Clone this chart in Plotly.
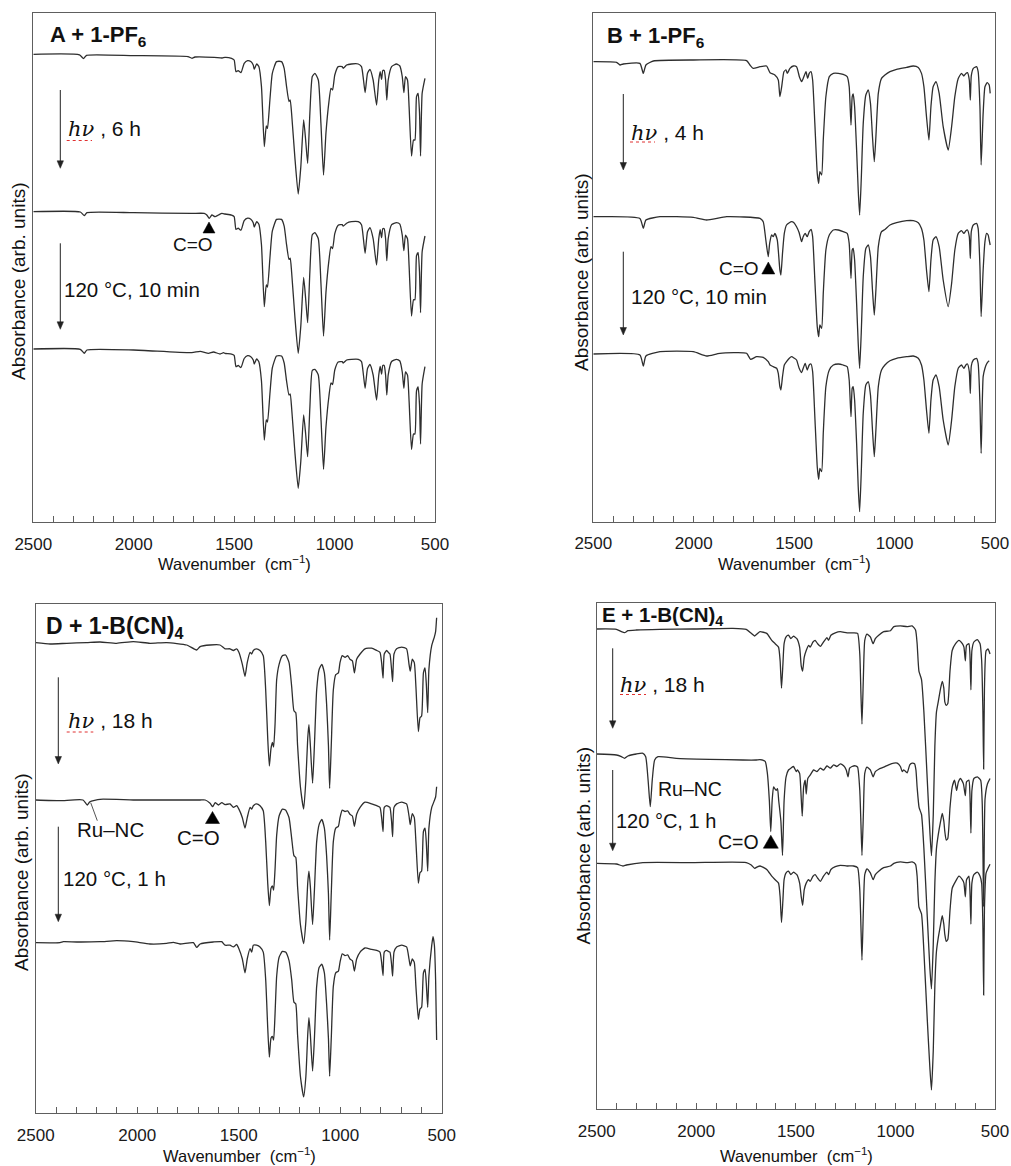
import plotly.graph_objects as go

W, H = 1011, 1166

# ------------------------------------------------------------------ data
# Panel A : A + 1-PF6   (values = relative absorbance, arb. units; dips downward)
A_WN_R = [1546,1513,1500,1491,1480,1466,1450,1433,1417,1405,1400,1388,1377,1364,1350,1340,1334,1322,1310,1289,
          1264,1251,1239,1227,1221,1214,1198,1181,1168,1154,1144,1134,1123,1111,1098,1081,1068,1055,1043,1028,
          1018,1010,999,982,962,957,940,916,882,866,856,848,836,824,808,791,780,773,766,760,
          753,746,740,733,716,692,675,663,655,647,637,629,617,607,600,592,584,577,572,564,550]
A1_WN_L = [2500,2270,2250,2235,2000,1730,1710,1695,1600,1560]
A1_L = [0,-0.5,-4.3,-1,-1.3,-2.3,-4,-2.7,-3,-3.7]
A1_R = [-3,-4,-5.7,-17.3,-16.3,-18.3,-9,-6.3,-7.3,-10.7,-15,-9.7,-12.3,-32.3,-92.3,-71.7,-74,-45.7,-19,-7.3,
        -7.3,-14,-32.3,-47.3,-45.7,-59,-102.3,-139.7,-112.3,-65.7,-85.7,-109,-59,-22.3,-19,-25.7,-69,-120.7,-79,-47.3,
        -34,-35.7,-20.7,-12.3,-12.3,-14,-10.7,-9.7,-9.7,-12.3,-25.7,-38.3,-19,-15,-25.7,-50.7,-25.7,-17.3,-25,-16.3,
        -16.3,-25.7,-45.7,-25.7,-12.3,-9.7,-11.7,-22.3,-38.3,-22.3,-25.7,-52.3,-101.7,-85.7,-85.7,-42.3,-39,-59,-101.7,-39,-24]
A2_WN_L = [2500,2266,2246,2233,2001,1711,1649,1636,1624,1611,1595,1578,1561]
A2_L = [0,-0.3,-4,-1,-1,-1.7,-1.7,-3.3,-6.7,-3.3,-5,-3.3,-1.7]
A2_R = [-2.3,-3.5,-5,-17.7,-16.5,-18.5,-9,-6.5,-7.5,-11,-15.5,-10,-12.5,-33,-95,-73.3,-75.5,-46.5,-19.5,-7.7,
        -7.7,-14.5,-33,-47.7,-46.5,-60,-104,-141.7,-114,-65.7,-87,-111,-60,-23,-21,-27,-71,-124.3,-81,-48.5,
        -35,-37,-22,-13.5,-13,-14.5,-11.5,-10,-10,-13,-28,-41.7,-20,-16,-27,-53.3,-27,-18,-26,-17,
        -17,-27,-49,-27,-13,-11,-12.5,-23.5,-39,-23.5,-27,-54,-104.3,-88,-88,-44,-41,-61,-101,-40,-24.3]
A3_WN_L = [2500,2266,2246,2233,2001,1711,1669,1628,1603,1570,1553]
A3_L = [0,-0.3,-4.3,-1,-1,-3.7,-2.3,-4.3,-3,-5,-3.7]
A3_R = [-4.3,-5,-6.3,-17.7,-16.5,-18.5,-9.5,-6.7,-7.7,-11,-15,-10,-12.7,-32,-91,-71,-73,-45,-19,-7,
        -7,-14,-32,-46,-45,-58.5,-102,-139.3,-112,-66,-85,-107.7,-58.5,-21.5,-20.3,-26,-68.5,-120.3,-78.5,-47,
        -34,-35.5,-21,-13,-12.7,-14,-11,-10.3,-10.3,-12.7,-26.5,-39.3,-19.5,-15.5,-26,-51,-26,-17.5,-25,-16.5,
        -16.5,-26,-46,-26,-12.5,-10.3,-12,-23,-39.3,-23,-26,-52,-100.3,-85,-85,-42,-38,-56,-95,-35,-17.7]

# Panel B : B + 1-PF6
B1_WN_L = [2500,2384,2367,2351,2268,2251,2238,2201,2002,1737,1720,1704,1670,1637]
B1_L = [0,-0.7,-3.3,-2.3,-1.7,-11.7,-3.3,0.7,1.7,1,-3.3,-6.7,-5,-4.3]
B1_WN_R = [1620,1596,1579,1571,1562,1551,1541,1534,1521,1504,1488,1474,1463,1455,1441,1433,1425,1416,1408,1397,
           1385,1378,1372,1363,1355,1342,1325,1305,1280,1256,1236,1226,1217,1211,1206,1199,1189,1181,1174,1166,
           1156,1143,1131,1120,1110,1101,1093,1081,1065,1048,1023,990,940,907,882,866,854,841,829,819,
           808,794,778,758,733,716,700,683,667,655,645,637,628,623,618,608,592,584,575,569,559,550,539,529,524]
B1_R = [-11,-13.3,-18.3,-35,-25,-10,-8.3,-11.7,-6.7,-4.3,-5,-15,-20,-16.7,-10,-16.7,-11.7,-10,-18.3,-61.7,
        -111.7,-121.7,-110,-113.3,-78.3,-35,-15,-11.7,-11.7,-12.7,-15,-25,-63.3,-35,-32.3,-45,-88.3,-128.3,-153.3,-118.3,
        -61.7,-33.3,-28.3,-41.7,-75,-100,-75,-31.7,-16.7,-13.3,-10,-7.7,-5.7,-4.3,-5.7,-11.7,-25,-55,-78.3,-45,
        -25,-20,-31.7,-65,-88.3,-65,-35,-16.7,-11.7,-14.3,-11.7,-11,-18.3,-38.3,-14,-6.7,-5,-10,-45,-103.3,-51.7,-25,-21,-23.3,-31.7]
B2_WN_L = [2500,2268,2251,2238,2168,2002,1936,1836,1670,1654,1641,1629,1622,1612,1604,1596,1584]
B2_L = [0,-1.7,-11.7,-3.3,0,-0.7,-3.3,0,-1.7,-5,-23.3,-40,-26.7,-18.3,-20,-16.7,-23.3]
B2_WN_R = [1579,1571,1566,1558,1549,1538,1524,1513,1501,1488,1475,1463,1455,1445,1435,1425,1416,1408,1397,1385,
           1378,1372,1363,1355,1342,1325,1305,1280,1256,1236,1226,1217,1211,1206,1199,1189,1181,1174,1166,1156,
           1143,1131,1120,1110,1101,1093,1081,1065,1048,1023,990,940,907,882,866,854,841,829,819,808,
           794,778,758,733,716,700,683,667,655,645,637,628,623,618,608,592,584,575,569,559,550,542,534,529,524]
B2_R = [-33.3,-53.3,-58.3,-36.7,-16.7,-8.3,-6,-5,-6,-10,-16,-25,-20,-16.7,-20,-15,-12.7,-20,-63.3,-110,
        -120,-108.3,-111.7,-76.7,-33.3,-18.3,-13.3,-13.3,-15,-16.7,-26.7,-61.7,-33.3,-31.7,-43.3,-86.7,-126.7,-151.7,-116.7,-60,
        -31.7,-28.3,-40,-73.3,-98.3,-73.3,-30,-15,-12.7,-8.3,-6,-4,-4,-6,-11.7,-23.3,-53.3,-75,-43.3,-23.3,
        -20,-30,-63.3,-90,-66.7,-33.3,-16.7,-14,-16.7,-14,-13.3,-20,-41.7,-15,-8.3,-6.7,-11.7,-50,-100,-53.3,-25,-16.7,-18.3,-23.3,-28.3]
B3_WN_L = [2500,2268,2251,2238,2168,2002,1936,1870,1737,1717,1687,1654,1629]
B3_L = [0,-1,-12,-2,2.3,2.3,-2,0.7,0.7,-5.3,-2.7,-3.3,-7.7]
B3_WN_R = [1620,1604,1587,1579,1571,1566,1558,1549,1538,1524,1513,1501,1488,1475,1463,1455,1445,1435,1425,1416,
           1408,1397,1385,1378,1372,1363,1355,1342,1325,1305,1280,1256,1236,1226,1217,1211,1206,1199,1189,1181,
           1174,1166,1156,1143,1131,1120,1110,1101,1093,1081,1065,1048,1023,990,940,907,882,866,854,841,
           829,819,808,794,778,758,733,716,700,683,667,655,645,637,628,623,618,608,592,584,575,569,559,550,542,534,529]
B3_R = [-11,-12.7,-14.3,-19.3,-32.7,-36,-22.7,-11,-7.7,-4.3,-2.7,-4,-6,-14.3,-18.7,-14.3,-9.3,-16,-11,-10,
        -17.7,-62.7,-112.7,-125.3,-114.3,-117.7,-79.3,-32.7,-16,-11,-10,-11,-12.7,-26,-62.7,-34.3,-32.7,-46,-89.3,-132.7,
        -157.7,-119.3,-59.3,-31,-27.7,-41,-76,-102.7,-76,-32.7,-16,-11,-6.7,-4.3,-2.7,-2,-4.3,-11,-26,-56,
        -79.3,-46,-26,-21,-32.7,-66,-91,-66,-32.7,-14.3,-11,-14.3,-11,-10,-17.7,-39.3,-12,-6,-4.3,-9.3,-49.3,-99.3,-22.7,-14.3,-10,-7.7,-6.7]

# Panel D : D + 1-B(CN)4
D_WN_R = [1567,1543,1526,1510,1499,1482,1469,1458,1444,1436,1428,1412,1395,1379,1367,1357,1349,1341,1334,1328,
          1321,1313,1301,1285,1269,1252,1239,1228,1219,1210,1196,1180,1169,1160,1154,1147,1136,1127,1116,1104,
          1091,1078,1067,1058,1052,1044,1034,1022,1009,1001,990,976,963,952,940,930,919,902,878,845,
          820,804,796,789,783,771,763,755,747,742,735,722,697,673,661,655,645,635,627,615,
          607,599,590,582,576,569,563,549,536,530,525]
D1_WN_L = [2500,2429,2347,2249,2183,2101,2019,1937,1855,1756,1707,1690,1641,1592]
D1_L = [0.7,-0.7,0,0.7,1.3,0,1.7,0,0.7,-1.7,-6.7,-3.3,-1.7,-1.7]
D1_R = [-5.5,-5.5,-7.2,-5.5,-9.0,-21.0,-33.1,-19.3,-9.0,-10.7,-7.2,-5.5,-7.2,-12.4,-46.9,-95.1,-122.7,-105.4,-99.2,-103.7,
        -81.3,-36.5,-21.0,-12.4,-11.7,-19.3,-43.4,-67.5,-69.3,-102.0,-143.4,-165.8,-136.5,-95.1,-81.3,-102.0,-139.9,-102.0,-46.9,-26.2,
        -21.0,-29.6,-60.6,-102.0,-145.1,-102.0,-46.9,-31.4,-29.6,-19.3,-12.4,-14.1,-12.4,-15.9,-17.6,-29.6,-15.9,-10.7,-5.5,-4.8,
        -7.2,-9.0,-19.3,-34.8,-10.7,-7.2,-9.0,-10.7,-26.2,-38.3,-10.7,-5.5,-3.8,-5.5,-21.0,-27.9,-15.9,-19.3,-43.4,-88.2,
        -74.4,-72.7,-29.6,-24.5,-40.0,-69.3,-26.2,-2.1,6.5,11.7,25.5]
D2_WN_L = [2500,2380,2267,2246,2233,2183,2019,1855,1690,1665,1641,1628,1616,1600,1583]
D2_L = [0,-0.7,0,-5,-1.7,0.7,0,0,0,0,-3.3,-6.7,-2.7,-5,-2.7]
D2_R = [-4.6,-3.9,-7.4,-5.7,-9.1,-17.7,-28.1,-17.7,-7.4,-9.1,-5.7,-3.9,-5.7,-10.8,-41.9,-83.2,-105.6,-88.4,-86.0,-90.1,
        -69.4,-35.4,-16.0,-9.1,-10.1,-17.7,-38.4,-55.6,-57.3,-86.6,-124.5,-143.5,-121.1,-83.2,-71.1,-86.6,-124.5,-90.1,-41.9,-24.6,
        -19.4,-28.1,-55.6,-93.5,-140.0,-93.5,-41.9,-28.1,-26.3,-17.7,-10.1,-11.5,-10.8,-14.3,-16.0,-26.3,-14.3,-7.4,-2.2,-3.9,
        -5.7,-7.4,-17.7,-31.5,-7.4,-5.7,-6.3,-7.4,-21.2,-36.7,-7.4,-3.9,-2.2,-3.9,-16.0,-24.6,-13.6,-17.7,-41.9,-83.2,
        -72.8,-71.1,-31.5,-28.1,-41.9,-71.1,-28.1,-7.4,-0.5,3.0,13.3]
D3_WN_L = [2500,2380,2364,2298,2183,2101,2019,1937,1855,1822,1789,1723,1707,1690,1625,1584]
D3_L = [0,0,1,0.7,1,2,1,-1.3,-0.7,0.3,-1.3,0,-4.7,-1.3,0.7,1]
D3_WN_R = D_WN_R[:87] + [549,543,536,530,525]
D3_R = [-2.5,-2.5,-4.2,-1.8,-6.0,-16.3,-30.1,-16.3,-6.0,-9.4,-2.5,-2.5,-4.2,-9.4,-37.0,-85.2,-114.5,-95.6,-93.8,-97.3,
        -71.4,-33.5,-14.6,-8.7,-9.4,-18.0,-37.0,-59.4,-61.1,-92.1,-133.5,-154.2,-133.5,-92.1,-74.9,-92.1,-128.3,-95.6,-43.9,-24.9,
        -21.5,-30.1,-61.1,-95.6,-133.5,-95.6,-43.9,-30.1,-28.4,-19.7,-11.1,-12.9,-12.2,-16.3,-18.0,-28.4,-16.3,-9.4,-5.3,-6.7,
        -7.7,-9.4,-19.7,-32.8,-9.4,-7.7,-8.7,-9.4,-21.5,-33.5,-9.4,-4.2,-2.5,-4.2,-16.3,-23.2,-16.3,-19.7,-43.9,-76.6,
        -66.3,-64.6,-30.1,-26.6,-40.4,-64.6,-33.5,-2.5,6.1,-2.5,-37.0,-97.3]

# Panel E : E + 1-B(CN)4
E_WN_R = [1680,1646,1621,1604,1587,1579,1572,1565,1559,1549,1537,1525,1512,1495,1481,1473,1466,1458,1448,1436,
          1428,1414,1403,1391,1377,1361,1344,1336,1324,1302,1277,1243,1210,1190,1179,1173,1168,1161,1154,1143,
          1126,1112,1101,1084,1059,1025,1008,975,941,916,899,891,882,869,857,840,827,819,810,802,
          794,785,773,765,757,752,745,737,726,715,698,681,664,656,649,643,631,626,621,616,
          606,589,575,567,561,557,553,545,535,525]
E1_WN_L = [2500,2401,2376,2360,2343,2301,2184,2017,1816,1749,1724,1707,1691]
E1_L = [0,-0.3,-2.7,-3.7,-1.7,-1,-0.3,0,0.7,-0.3,-4.3,-7,-4.3]
E1_R = [-2.7,-4.4,-11.3,-14.7,-18.1,-31.8,-59.2,-35.2,-14.7,-7.9,-6.2,-9.6,-7.2,-9.6,-18.1,-36.9,-42.1,-28.4,-21.5,-16.4,
        -18.1,-13,-11.3,-14.7,-17.4,-13,-8.6,-11.3,-6.2,-3.8,-2.7,-3.8,-3.8,-4.4,-25,-66,-95.1,-48.9,-11.3,-5.1,
        -7.9,-14.7,-9.6,-6.2,-2.7,-1.7,2.4,3.1,2.4,3.1,-1,-14.7,-42.1,-50.6,-83.1,-151.5,-202.8,-226.7,-186,-117.3,
        -83.1,-72.8,-59.2,-52.3,-59.2,-72.8,-76.3,-74.6,-42.1,-21.5,-14.7,-11.3,-14.7,-18.1,-31.8,-16.4,-14.7,-25,-60.9,-21.5,
        -13,-10.6,-14.7,-31.8,-80,-140,-60,-22,-20,-25]
E2_WN_L = [2500,2401,2376,2360,2343,2301,2268,2254,2242,2231,2221,2209,2192,2100,1933,1766,1699]
E2_L = [0,-1,-2.7,-4.3,-2,0,0.7,-2.7,-26,-52.7,-26,-6,-2.7,-4.3,-5.3,-6,-6]
E2_WN_R = [1680,1654,1643,1633,1626,1619,1612,1606,1599,1592,1586,1575,1567,1559,1549,1537,1525,1512,1498,1492,
           1481,1475,1468,1461,1453,1448,1440,1428,1411,1394,1377,1361,1344,1327,1310,1294,1277,1260,1247,1238,
           1230,1218,1201,1190,1179,1173,1168,1161,1154,1143,1126,1112,1101,1084,1059,1034,1008,991,975,966,
           958,941,928,916,904,897,891,881,869,857,840,827,819,810,802,794,785,773,765,757,
           752,745,737,726,715,703,693,684,673,659,649,643,631,626,621,616,606,589,572,564,557,550,538,525]
E2_R = [-5.7,-7.4,-19.4,-46.7,-77.5,-46.7,-33,-34.7,-36.4,-34.7,-46.7,-67.4,-101.4,-46.7,-22.8,-16,-14.2,-12.5,-17.6,-15.9,
        -19.4,-36.4,-62.1,-33.1,-26.2,-40,-24.5,-21.1,-16,-17.6,-14.2,-16,-12,-14.2,-10.8,-12.5,-9.8,-11.8,-16,-22.8,
        -14.2,-12.5,-11.8,-13.2,-36.4,-70.7,-101.4,-60.4,-19.4,-13.2,-15.9,-22.8,-17.6,-15.2,-13.2,-10.8,-9.1,-9.1,-12.5,-17.6,
        -15.9,-18.8,-10.8,-9.1,-9.8,-16,-33.2,-53.7,-60.5,-94.6,-163,-214.4,-234.9,-190.4,-128.9,-94.6,-80.9,-67.2,-59.3,-67.2,
        -77.5,-86.1,-84.4,-53.6,-33.1,-26.2,-36.4,-27.9,-24.5,-29.6,-41.6,-27.9,-26.2,-39.9,-79.2,-36.5,-24.5,-22.8,-26.2,-50,
        -152.7,-45,-30,-24.5]
E3_WN_L = [2500,2401,2368,2351,2268,2017,1749,1724,1707,1691]
E3_L = [0,-0.7,-2.7,-1.7,0.7,0.7,0.7,-1.7,-5,-3.3]
E3_R = [-2.7,-6.1,-12.9,-16.4,-19.8,-33.5,-59.2,-36.9,-16.4,-9.6,-7.9,-11.3,-8.9,-11.3,-19.8,-33.5,-42,-26.6,-19.8,-16.4,
        -18.1,-12.9,-11.3,-14.7,-18.1,-12.9,-8.9,-11.3,-6.2,-3.4,-2,-2.7,-2.7,-4.4,-26.6,-64.2,-96.8,-47.2,-11.3,-5.5,
        -9.6,-16.4,-11.3,-7.9,-4.4,-2.7,0,1.4,0.7,1.4,-1,-12.9,-43.7,-50.6,-88.2,-156.6,-204.5,-226.7,-187.4,-122.4,
        -88.2,-74.5,-60.9,-52.3,-60.9,-71.1,-78,-76.3,-47.2,-25,-18.1,-12.9,-16.4,-19.8,-33.5,-16.4,-12.9,-26.6,-60.9,-19.8,
        -11.3,-8.9,-13,-20,-60,-131.7,-45,-10,-5,-1]

MAJOR_TICKS = [2500, 2000, 1500, 1000, 500]
MAJOR_TEXT = ["2500", "2000", "1500", "1000", "500"]
MINOR_TICKS = list(range(2500, 499, -100))

# ------------------------------------------------------------------ style / layout
FONT = "Liberation Sans, Arial, sans-serif"
SERIF = "DejaVu Serif"
LINE_C = "#2e2e2e"
FRAME_C = "#5e5e5e"


def fx(x):
    return x / W


def fy(y):
    return 1 - y / H


panels = [
    dict(box=(33.3, 13.0, 435.0, 522.0),
         traces=[(A1_WN_L + A_WN_R, A1_L + A1_R, -41.3),
                 (A2_WN_L + A_WN_R, A2_L + A2_R, -198.7),
                 (A3_WN_L + A_WN_R, A3_L + A3_R, -336.0)]),
    dict(box=(593.3, 13.3, 995.0, 521.7),
         traces=[(B1_WN_L + B1_WN_R, B1_L + B1_R, -48.4),
                 (B2_WN_L + B2_WN_R, B2_L + B2_R, -203.4),
                 (B3_WN_L + B3_WN_R, B3_L + B3_R, -340.7)]),
    dict(box=(35.7, 604.0, 441.7, 1113.3),
         traces=[(D1_WN_L + D_WN_R, D1_L + D1_R, -39.3),
                 (D2_WN_L + D_WN_R, D2_L + D2_R, -196.0),
                 (D3_WN_L + D3_WN_R, D3_L + D3_R, -338.7)]),
    dict(box=(596.7, 602.7, 995.0, 1109.3),
         traces=[(E1_WN_L + E_WN_R, E1_L + E1_R, -26.3),
                 (E2_WN_L + E2_WN_R, E2_L + E2_R, -151.3),
                 (E3_WN_L + E_WN_R, E3_L + E3_R, -260.6)]),
]

fig = go.Figure()
layout = dict(template="none", width=W, height=H, margin=dict(l=0, r=0, t=0, b=0, pad=0, autoexpand=False),
              paper_bgcolor="white", plot_bgcolor="white", showlegend=False,
              font=dict(family=FONT, color="#1a1a1a"))

for i, p in enumerate(panels):
    k = "" if i == 0 else str(i + 1)
    l, t, r, b = p["box"]
    for wn, vals, off in p["traces"]:
        fig.add_trace(go.Scatter(x=wn, y=[v + off for v in vals], mode="lines",
                                 xaxis="x" + k, yaxis="y" + k, hoverinfo="skip",
                                 line=dict(color=LINE_C, width=1.3, shape="spline", smoothing=0.5)))
    layout["xaxis" + k] = dict(domain=[fx(l), fx(r)], anchor="y" + k, range=[2500, 500], automargin=False,
                               showline=True, mirror=True, linecolor=FRAME_C, linewidth=1.3,
                               tickmode="array", tickvals=MAJOR_TICKS, ticktext=MAJOR_TEXT,
                               ticks="inside", ticklen=6, tickwidth=1, tickcolor=FRAME_C,
                               minor=dict(tickmode="array", tickvals=MINOR_TICKS, ticks="inside",
                                          ticklen=6, tickwidth=1, tickcolor=FRAME_C, showgrid=False),
                               ticklabelstandoff=6,
                               tickfont=dict(family=FONT, size=17, color="#1a1a1a"),
                               showgrid=False, zeroline=False, fixedrange=True)
    layout["yaxis" + k] = dict(domain=[fy(b), fy(t)], anchor="x" + k, range=[-(b - t), 0], automargin=False,
                               showline=True, mirror=True, linecolor=FRAME_C, linewidth=1.3,
                               ticks="", showticklabels=False, showgrid=False, zeroline=False,
                               fixedrange=True)

fig.update_layout(**layout)

ann = []
shapes = []


def text(x, y, s, size=20, xanchor="left", bold=False, angle=0):
    ann.append(dict(x=fx(x), y=fy(y), xref="paper", yref="paper", text=("<b>%s</b>" % s) if bold else s,
                    showarrow=False, xanchor=xanchor, yanchor="middle", textangle=angle,
                    borderpad=0, font=dict(family=FONT, size=size, color="#111111")))


def hv(x, y, rest):
    s = "<i><span style='font-family:%s'>hν</span></i> , %s" % (SERIF, rest)
    text(x, y, s, size=21)


def arrow(x, y0, y1):
    shapes.append(dict(type="line", xref="paper", yref="paper", x0=fx(x), x1=fx(x), y0=fy(y0), y1=fy(y1 - 6),
                       line=dict(color="#222222", width=1)))
    path = "M %f %f L %f %f L %f %f Z" % (fx(x - 3.2), fy(y1 - 7.5), fx(x + 3.2), fy(y1 - 7.5), fx(x), fy(y1))
    shapes.append(dict(type="path", xref="paper", yref="paper", path=path,
                       fillcolor="#222222", line=dict(color="#222222", width=0.5)))


def tri(cx, cy, w, h):
    path = "M %f %f L %f %f L %f %f Z" % (fx(cx - w / 2), fy(cy + h / 2), fx(cx + w / 2), fy(cy + h / 2),
                                          fx(cx), fy(cy - h / 2))
    shapes.append(dict(type="path", xref="paper", yref="paper", path=path,
                       fillcolor="#000000", line=dict(color="#000000", width=0.5)))


def squiggle(x0, x1, y):
    shapes.append(dict(type="line", xref="paper", yref="paper", x0=fx(x0), x1=fx(x1), y0=fy(y), y1=fy(y),
                       line=dict(color="#e03030", width=1, dash="dot")))


XT = "Wavenumber  (cm<sup>−1</sup>)"
YT = "Absorbance (arb. units)"

# Panel A
text(49.3, 36, "A + 1-PF<sub>6</sub>", size=22, bold=True)
hv(66.7, 129, "6 h"); squiggle(66.7, 92, 140.5)
text(63.3, 289.5, "120 °C, 10 min", size=20.5)
arrow(60.3, 90, 168.3); arrow(60.3, 243.3, 329.3)
tri(209, 227.5, 12, 11); text(193, 245, "C=O", size=19, xanchor="center")
text(234, 563, XT, size=16.5, xanchor="center")
text(18, 281, YT, size=19, xanchor="center", angle=-90)

# Panel B
text(605.7, 36.5, "B + 1-PF<sub>6</sub>", size=22, bold=True)
hv(630, 133, "4 h"); squiggle(630, 655, 142)
text(630, 296, "120 °C, 10 min", size=20.5)
arrow(623.3, 94, 170); arrow(623.3, 251.7, 335)
tri(768.3, 268, 13, 12); text(739, 268, "C=O", size=19, xanchor="center")
text(794, 563, XT, size=16.5, xanchor="center")
text(581, 272, YT, size=19, xanchor="center", angle=-90)

# Panel D
text(45, 627, "D + 1-B(CN)<sub>4</sub>", size=23, bold=True)
hv(66.7, 720.5, "18 h"); squiggle(66.7, 93.3, 732)
text(61.7, 878, "120 °C, 1 h", size=20.5)
arrow(58.3, 677.3, 764); arrow(58.3, 826.7, 921.7)
shapes.append(dict(type="line", xref="paper", yref="paper", x0=fx(90.7), y0=fy(802.7), x1=fx(97.3), y1=fy(820.7),
                   line=dict(color="#555555", width=1)))
text(110, 829.5, "Ru–NC", size=20.5, xanchor="center")
tri(212.5, 817.5, 14, 12); text(198, 837, "C=O", size=20.5, xanchor="center")
text(239, 1155, XT, size=16.5, xanchor="center")
text(21, 872, YT, size=19, xanchor="center", angle=-90)

# Panel E
text(600.7, 616, "E + 1-B(CN)<sub>4</sub>", size=20.5, bold=True)
hv(619, 684.7, "18 h"); squiggle(620, 646, 694.5)
text(615, 820.5, "120 °C, 1 h", size=20)
arrow(612.7, 648.3, 728.3); arrow(612.7, 770, 850.7)
text(690, 789, "Ru–NC", size=19.5, xanchor="center")
tri(770.8, 841.7, 15, 13); text(738, 842, "C=O", size=19.5, xanchor="center")
text(796, 1155, XT, size=16.5, xanchor="center")
text(583, 845.5, YT, size=19, xanchor="center", angle=-90)

fig.update_layout(annotations=ann, shapes=shapes)
fig.write_html("out.html")
